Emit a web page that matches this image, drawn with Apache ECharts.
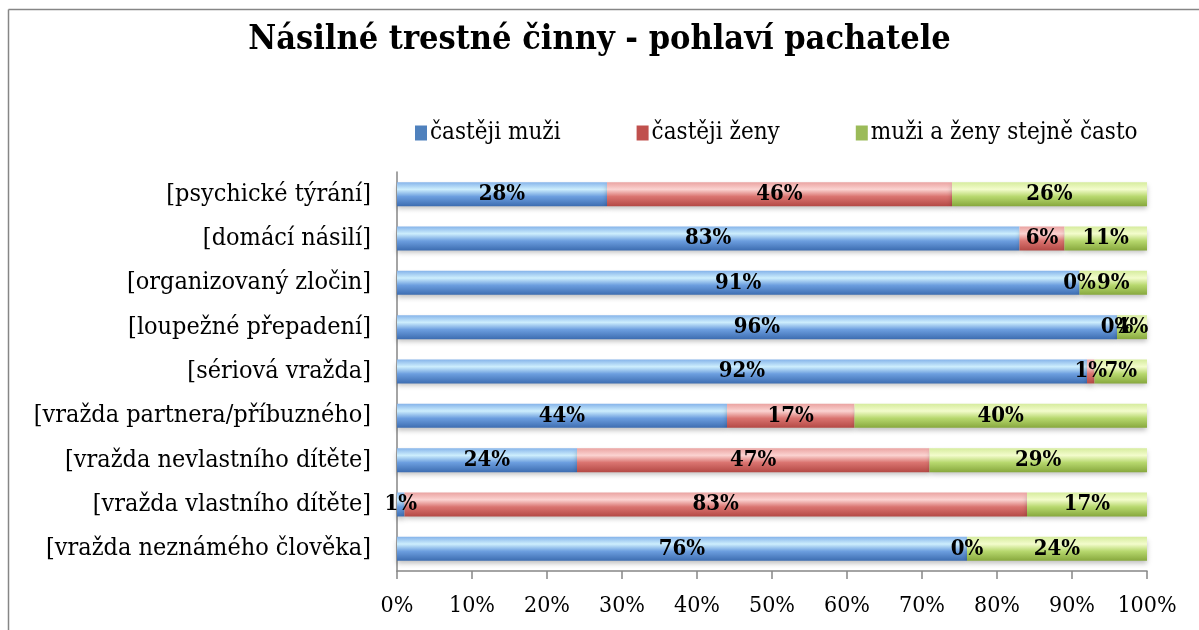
<!DOCTYPE html>
<html><head><meta charset="utf-8">
<script src="https://cdn.jsdelivr.net/npm/echarts@6/dist/echarts.min.js"></script>
<style>html,body{margin:0;padding:0;background:#fff;}#c{width:1199px;height:630px;}</style>
</head><body><div id="c"></div>
<script>
const categories = ['[psychické týrání]','[domácí násilí]','[organizovaný zločin]','[loupežné přepadení]','[sériová vražda]','[vražda partnera/příbuzného]','[vražda nevlastního dítěte]','[vražda vlastního dítěte]','[vražda neznámého člověka]'];
const seriesNames = ['častěji muži','častěji ženy','muži a ženy stejně často'];
const muzi = [28, 83, 91, 96, 92, 44, 24, 1, 76];
const zeny = [46, 6, 0, 0, 1, 17, 47, 83, 0];
const oba  = [26, 11, 9, 4, 7, 40, 29, 17, 24];
const tickLabels = ['0%','10%','20%','30%','40%','50%','60%','70%','80%','90%','100%'];

const serif = '"DejaVu Serif Condensed", "DejaVu Serif", serif';
function grad(c0,c1,c2,c3){
  return new echarts.graphic.LinearGradient(0,0,0,1,[
    {offset:0,color:c0},{offset:0.3,color:c1},{offset:0.6,color:c2},{offset:1,color:c3}]);
}
const colors = [
  grad('#86b4ea','#cdeefd','#6c9edf','#3d6db1'),
  grad('#eaa3a1','#fbd3d1','#da7470','#b44945'),
  grad('#d6ec9e','#f3fccc','#b7d86e','#87a83d')
];
const legendColors = ['#4f81bd','#c0504d','#9bbb59'];
const dataArr = [muzi, zeny, oba];
const chart = echarts.init(document.getElementById('c'), null, {renderer:'canvas'});
chart.setOption({
  animation:false,
  backgroundColor:'#fff',
  title:{text:'Násilné trestné činny - pohlaví pachatele', left:'center', top:18,
    textStyle:{fontFamily:serif, fontWeight:'bold', fontSize:34, color:'#000'}},
  legend:{top:116, left:410, itemWidth:12, itemHeight:15, itemGap:76, icon:'rect',
    textStyle:{fontFamily:serif, fontSize:24, color:'#000', padding:[0,0,0,-2]},
    data:seriesNames.map((n,i)=>({name:n, itemStyle:{color:legendColors[i]}}))},
  grid:{left:397, right:52, top:172, bottom:59, containLabel:false},
  xAxis:{type:'value', min:0, max:100, interval:10,
    axisLine:{show:true, lineStyle:{color:'#868686', width:1.5}},
    axisTick:{show:true, length:8, lineStyle:{color:'#868686', width:1.5}},
    splitLine:{show:false},
    axisLabel:{margin:24, fontFamily:serif, fontSize:23, color:'#000',
      formatter:(v)=>tickLabels[Math.round(v/10)]}},
  yAxis:{type:'category', data:categories, inverse:true,
    axisLine:{show:true, lineStyle:{color:'#868686', width:1.5}},
    axisTick:{show:false},
    axisLabel:{margin:26, fontFamily:serif, fontSize:25, color:'#000'}},
  series: seriesNames.map((n,i)=>({
    name:n, type:'bar', stack:'s', barWidth:'54%',
    data:dataArr[i],
    itemStyle:{color:colors[i], shadowColor:'rgba(0,0,0,0.25)', shadowBlur:5, shadowOffsetY:3},
    label:{show:true, position:'inside', formatter:'{c}%', fontFamily:serif, fontWeight:'bold', fontSize:22, color:'#000'}
  })),
  graphic:[
    {type:'line', shape:{x1:8.5,y1:9.5,x2:1199,y2:9.5}, style:{stroke:'#868686', lineWidth:1.5}},
    {type:'line', shape:{x1:8.5,y1:9.5,x2:8.5,y2:630}, style:{stroke:'#868686', lineWidth:1.5}}
  ]
});
</script></body></html>
